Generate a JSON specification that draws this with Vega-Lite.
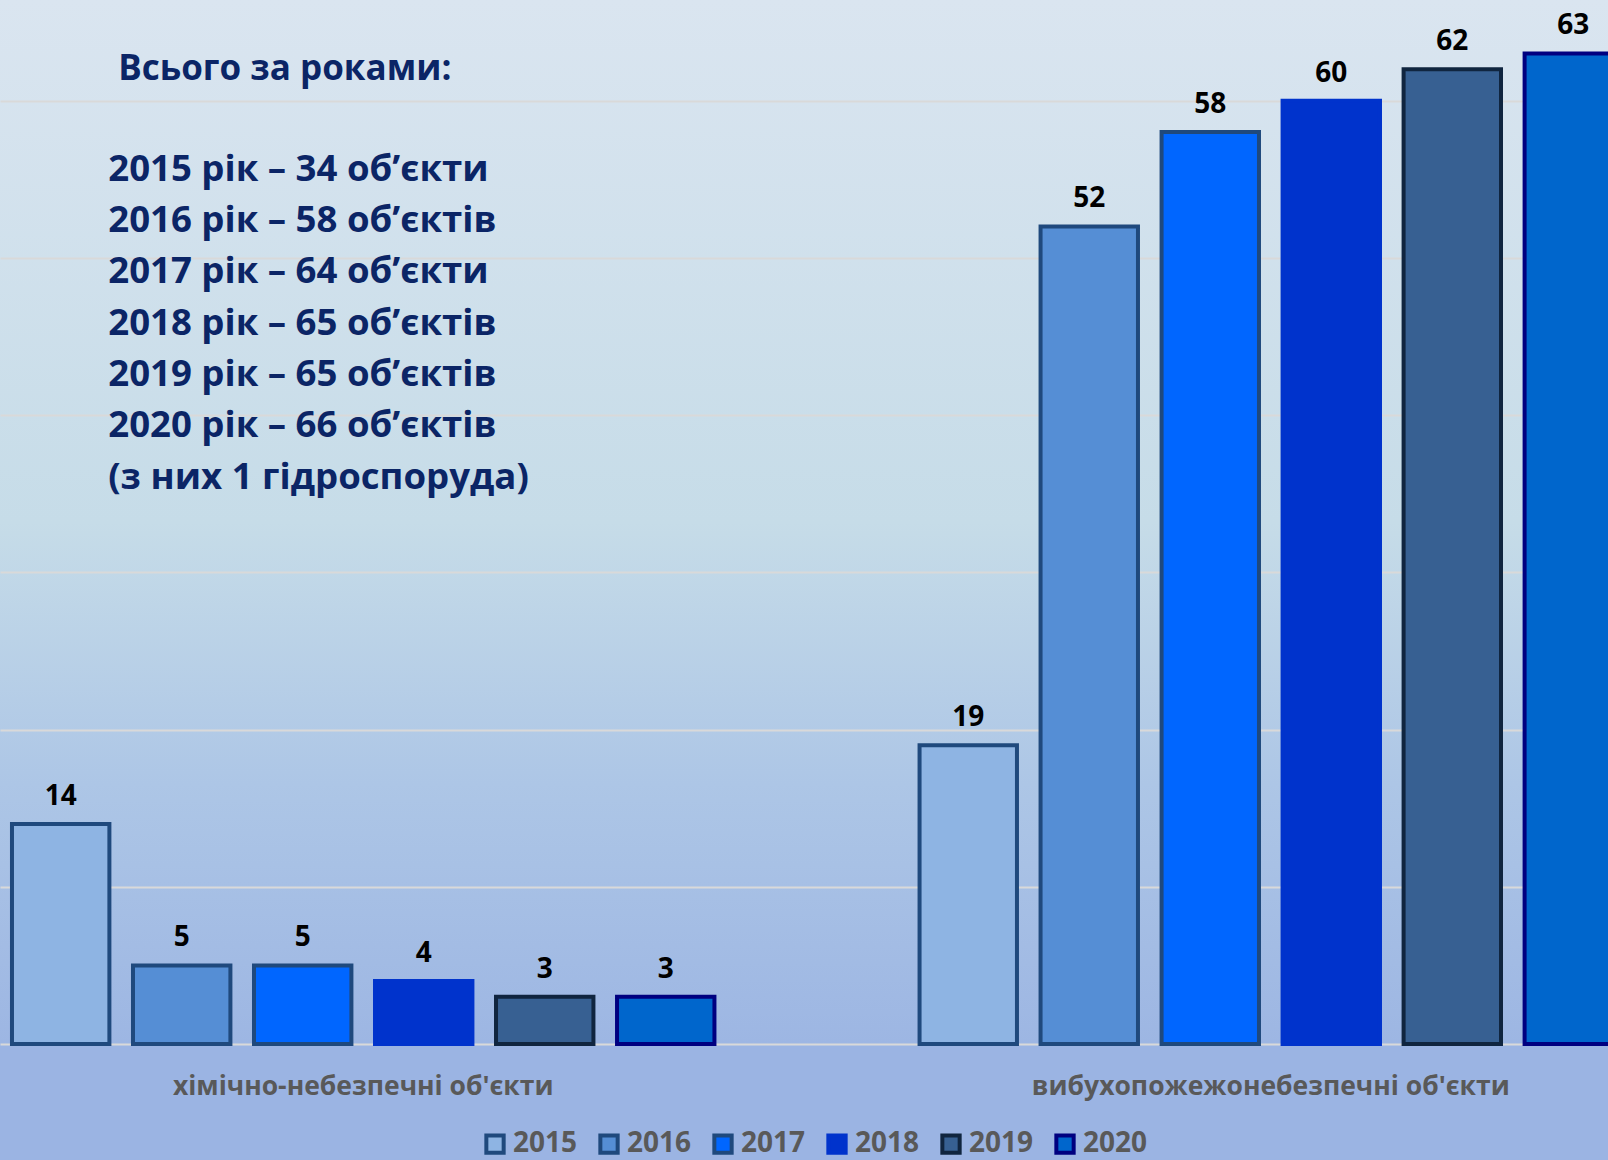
{
  "$schema": "https://vega.github.io/schema/vega-lite/v6.json",
  "autosize": "none",
  "padding": {"left": 0, "top": 0, "right": 0, "bottom": 116},
  "width": 1608,
  "height": 1044,
  "background": "#9bb4e3",
  "config": {
    "view": {
      "stroke": null,
      "fill": {"gradient": "linear", "x1": 0, "y1": 0, "x2": 0, "y2": 1,
        "stops": [
          {"offset": 0, "color": "#dae5f0"},
          {"offset": 0.5, "color": "#c6dce8"},
          {"offset": 0.75, "color": "#adc6e6"},
          {"offset": 1, "color": "#9db6e3"}
        ]}
    },
    "font": "Open Sans"
  },
  "data": {
    "values": [
      {"category": "хімічно-небезпечні об'єкти", "year": "2015", "value": 14},
      {"category": "хімічно-небезпечні об'єкти", "year": "2016", "value": 5},
      {"category": "хімічно-небезпечні об'єкти", "year": "2017", "value": 5},
      {"category": "хімічно-небезпечні об'єкти", "year": "2018", "value": 4},
      {"category": "хімічно-небезпечні об'єкти", "year": "2019", "value": 3},
      {"category": "хімічно-небезпечні об'єкти", "year": "2020", "value": 3},
      {"category": "вибухопожежонебезпечні об'єкти", "year": "2015", "value": 19},
      {"category": "вибухопожежонебезпечні об'єкти", "year": "2016", "value": 52},
      {"category": "вибухопожежонебезпечні об'єкти", "year": "2017", "value": 58},
      {"category": "вибухопожежонебезпечні об'єкти", "year": "2018", "value": 60},
      {"category": "вибухопожежонебезпечні об'єкти", "year": "2019", "value": 62},
      {"category": "вибухопожежонебезпечні об'єкти", "year": "2020", "value": 63}
    ]
  },
  "layer": [
    {
      "encoding": {
        "x": {
          "field": "category", "type": "nominal",
          "sort": ["хімічно-небезпечні об'єкти", "вибухопожежонебезпечні об'єкти"],
          "scale": {"range": [0, 1630], "paddingInner": 0.226, "paddingOuter": 0.011, "align": 0.6},
          "axis": {"title": null, "domain": false, "ticks": false, "labelAngle": 0,
            "labelFont": "Open Sans", "labelFontWeight": "bold", "labelFontSize": 26.5,
            "labelColor": "#595959", "labelPadding": 29, "labelLimit": 0}
        },
        "xOffset": {"field": "year", "type": "nominal",
          "scale": {"paddingInner": 0.195, "paddingOuter": 0}},
        "y": {
          "field": "value", "type": "quantitative",
          "scale": {"domain": [0, 66.4], "nice": false},
          "axis": {"title": null, "labels": false, "ticks": false, "domain": false,
            "values": [0, 10, 20, 30, 40, 50, 60], "gridColor": "#d9d9d9", "gridWidth": 2}
        }
      },
      "layer": [
        {
          "mark": {"type": "bar", "strokeJoin": "miter"},
          "encoding": {
            "fill": {"field": "year", "type": "nominal",
              "scale": {"domain": ["2015", "2016", "2017", "2018", "2019", "2020"],
                "range": ["#8eb4e3", "#558ed5", "#0066ff", "#0033cc", "#376092", "#0066cc"]},
              "legend": {"title": null, "orient": "none", "direction": "horizontal",
                "legendX": 481, "legendY": 1130, "symbolType": "square", "symbolSize": 300,
                "symbolStrokeWidth": 3.5, "labelFont": "Open Sans", "labelFontWeight": "bold",
                "labelFontSize": 28, "labelColor": "#595959", "labelOffset": 4, "columnPadding": 14}},
            "stroke": {"field": "year", "type": "nominal",
              "scale": {"domain": ["2015", "2016", "2017", "2018", "2019", "2020"],
                "range": ["#1f497d", "#1f497d", "#1f497d", "#0033cc", "#10253f", "#000080"]},
              "legend": null},
            "strokeWidth": {"field": "year", "type": "nominal",
              "scale": {"domain": ["2015", "2016", "2017", "2018", "2019", "2020"],
                "range": [4, 4, 4, 0, 1.5, 4]},
              "legend": null}
          }
        },
        {
          "mark": {"type": "text", "font": "Open Sans", "fontWeight": "bold", "fontSize": 28,
            "color": "#000000", "baseline": "alphabetic", "dy": -19},
          "encoding": {"text": {"field": "value", "type": "quantitative"}}
        }
      ]
    },
    {
      "data": {"values": [{"label": "Всього за роками:"}]},
      "mark": {"type": "text", "font": "Open Sans", "fontWeight": "bold", "fontSize": 35,
        "color": "#0b2566", "align": "left", "baseline": "alphabetic", "dx": -245},
      "encoding": {
        "x": {"datum": "хімічно-небезпечні об'єкти"},
        "y": {"datum": 61.3},
        "text": {"field": "label"}
      }
    },
    {
      "data": {"values": [{"lines": ["2015 рік – 34 об’єкти", "2016 рік – 58 об’єктів", "2017 рік – 64 об’єкти", "2018 рік – 65 об’єктів", "2019 рік – 65 об’єктів", "2020 рік – 66 об’єктів", "(з них 1 гідроспоруда)"]}]},
      "mark": {"type": "text", "font": "Open Sans", "fontWeight": "bold", "fontSize": 36.6,
        "lineHeight": 51.3, "color": "#0b2566", "align": "left", "baseline": "alphabetic", "dx": -255},
      "encoding": {
        "x": {"datum": "хімічно-небезпечні об'єкти"},
        "y": {"datum": 54.9},
        "text": {"field": "lines"}
      }
    }
  ]
}
